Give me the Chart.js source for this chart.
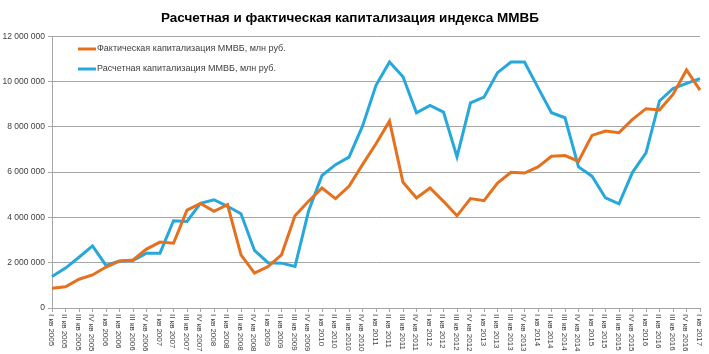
<!DOCTYPE html>
<html>
<head>
<meta charset="utf-8">
<script src="https://cdn.jsdelivr.net/npm/chart.js@4/dist/chart.umd.min.js"></script>
<style>
  html, body { margin: 0; padding: 0; background: #fff; }
  #wrap { width: 709px; height: 354px; }
</style>
</head>
<body>
<div id="wrap"><canvas id="myChart"></canvas></div>
<script>
const labels = [
  'I кв 2005', 'II кв 2005', 'III кв 2005', 'IV кв 2005',
  'I кв 2006', 'II кв 2006', 'III кв 2006', 'IV кв 2006',
  'I кв 2007', 'II кв 2007', 'III кв 2007', 'IV кв 2007',
  'I кв 2008', 'II кв 2008', 'III кв 2008', 'IV кв 2008',
  'I кв 2009', 'II кв 2009', 'III кв 2009', 'IV кв 2009',
  'I кв 2010', 'II кв 2010', 'III кв 2010', 'IV кв 2010',
  'I кв 2011', 'II кв 2011', 'III кв 2011', 'IV кв 2011',
  'I кв 2012', 'II кв 2012', 'III кв 2012', 'IV кв 2012',
  'I кв 2013', 'II кв 2013', 'III кв 2013', 'IV кв 2013',
  'I кв 2014', 'II кв 2014', 'III кв 2014', 'IV кв 2014',
  'I кв 2015', 'II кв 2015', 'III кв 2015', 'IV кв 2015',
  'I кв 2016', 'II кв 2016', 'III кв 2016', 'IV кв 2016',
  'I кв 2017'
];

// фактическая капитализация
const actual = [
  870000, 940000, 1270000, 1460000, 1810000, 2070000, 2120000, 2600000,
  2910000, 2860000, 4320000, 4620000, 4270000, 4560000, 2350000, 1540000,
  1830000, 2350000, 4070000, 4710000, 5300000, 4830000, 5370000, 6330000,
  7250000, 8250000, 5550000, 4860000, 5300000, 4710000, 4070000, 4830000,
  4740000, 5520000, 5990000, 5960000, 6230000, 6700000, 6730000, 6480000,
  7620000, 7810000, 7740000, 8330000, 8800000, 8740000, 9430000, 10510000,
  9620000
];

// расчетная капитализация
const estimated = [
  1390000, 1760000, 2240000, 2740000, 1880000, 2080000, 2100000, 2420000,
  2420000, 3850000, 3820000, 4620000, 4780000, 4490000, 4160000, 2540000,
  2000000, 1980000, 1830000, 4270000, 5850000, 6330000, 6660000, 8030000,
  9830000, 10860000, 10210000, 8620000, 8940000, 8650000, 6670000, 9060000,
  9310000, 10390000, 10860000, 10860000, 9730000, 8620000, 8400000, 6230000,
  5820000, 4860000, 4600000, 5990000, 6850000, 9140000, 9690000, 9920000,
  10130000
];

const yTicks = [0, 2000000, 4000000, 6000000, 8000000, 10000000, 12000000];

const fmt = v => String(v).replace(/\B(?=(\d{3})+(?!\d))/g, ' ');

// легенда внутри области графика + подписи оси X сверху вниз
const extras = {
  id: 'extras',
  afterDraw(chart) {
    const c = chart.ctx;
    const xs = chart.scales.x;
    c.save();
    c.font = '8px "Liberation Sans", Arial, sans-serif';
    c.fillStyle = '#404040';
    c.textAlign = 'left';
    c.textBaseline = 'middle';
    chart.data.labels.forEach((lab, i) => {
      const px = xs.getPixelForTick(i);
      c.save();
      c.translate(px - 1, xs.top + 6);
      c.rotate(Math.PI / 2);
      c.fillText(lab, 0, 0);
      c.restore();
    });

    c.font = '9px "Liberation Sans", Arial, sans-serif';
    chart.data.datasets.forEach((ds, i) => {
      const y = 49 + i * 20;
      c.strokeStyle = ds.borderColor;
      c.lineWidth = 3;
      c.beginPath();
      c.moveTo(78, y);
      c.lineTo(96, y);
      c.stroke();
      c.fillStyle = '#404040';
      c.fillText(ds.label, 97, y);
    });
    c.restore();
  }
};

const ctx = document.getElementById('myChart');

new Chart(ctx, {
  type: 'line',
  data: {
    labels: labels,
    datasets: [
      {
        label: 'Фактическая капитализация ММВБ, млн руб.',
        data: actual,
        borderColor: '#E5711E',
        borderWidth: 3,
        pointRadius: 0,
        tension: 0
      },
      {
        label: 'Расчетная капитализация ММВБ, млн руб.',
        data: estimated,
        borderColor: '#27A8DA',
        borderWidth: 3,
        pointRadius: 0,
        tension: 0
      }
    ]
  },
  options: {
    responsive: true,
    maintainAspectRatio: false,
    animation: false,
    layout: {
      padding: { left: 0, right: 9, top: 0, bottom: 42 }
    },
    plugins: {
      legend: { display: false },
      tooltip: { enabled: false },
      title: {
        display: true,
        text: 'Расчетная и фактическая капитализация индекса ММВБ',
        color: '#000',
        font: { family: '"Liberation Sans", Arial, sans-serif', size: 13.5, weight: 'bold' },
        padding: { top: 10, bottom: 10 }
      }
    },
    scales: {
      x: {
        offset: false,
        border: { color: '#A6A6A6' },
        grid: {
          drawOnChartArea: false,
          drawTicks: true,
          tickLength: 4,
          color: '#A6A6A6'
        },
        ticks: { display: false, autoSkip: false }
      },
      y: {
        min: 0,
        max: 12000000,
        afterFit(scale) { scale.width = 52; },
        afterBuildTicks(scale) { scale.ticks = yTicks.map(v => ({ value: v })); },
        border: { color: '#A6A6A6' },
        grid: {
          color: '#A6A6A6',
          tickLength: 4
        },
        ticks: {
          padding: 3,
          color: '#404040',
          font: { family: '"Liberation Sans", Arial, sans-serif', size: 8.5 },
          callback: v => fmt(v)
        }
      }
    }
  },
  plugins: [extras]
});
</script>
</body>
</html>
